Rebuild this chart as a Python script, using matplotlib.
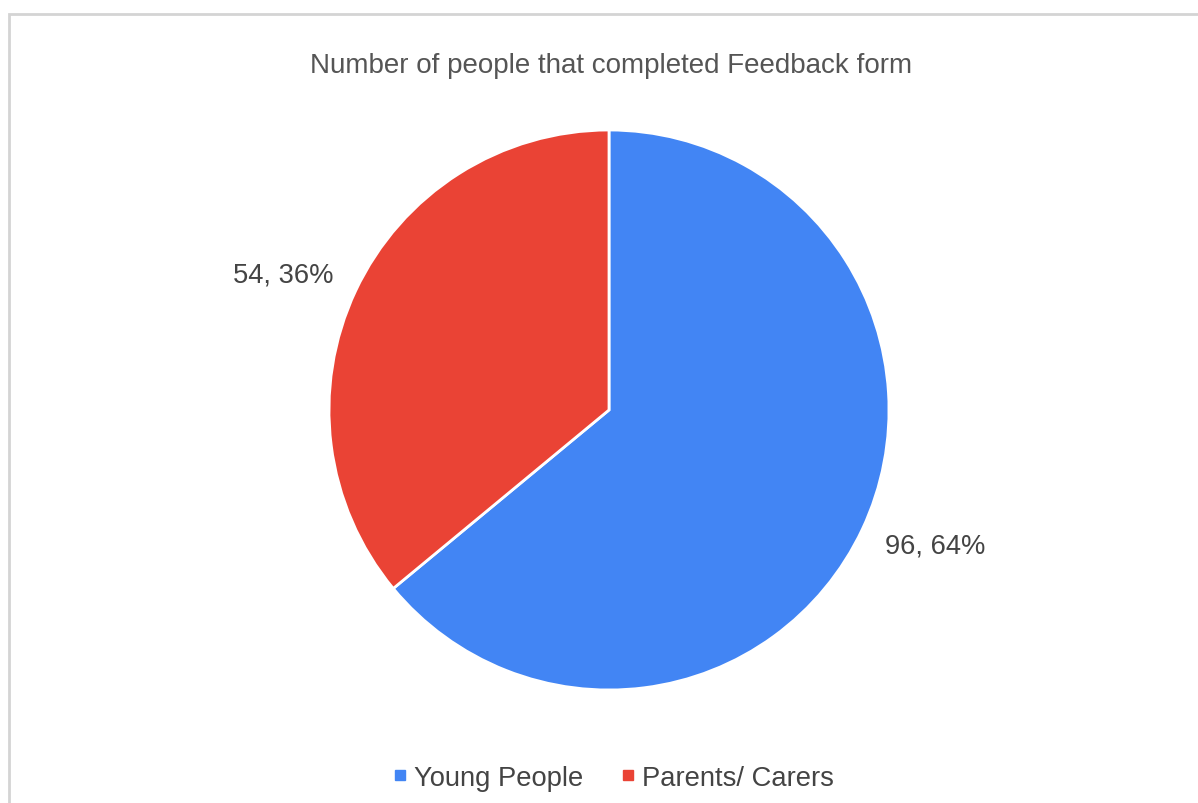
import numpy as np
import matplotlib.pyplot as plt
from matplotlib.lines import Line2D
from matplotlib.patches import Rectangle

plt.rcParams['font.family'] = ['Liberation Sans', 'DejaVu Sans']

# feedback form responses
groups = ['Young People', 'Parents/ Carers']
counts = [96, 54]
colors = ['#4285F4', '#EA4335']
title = 'Number of people that completed Feedback form'

W, H = 1198, 804
fig = plt.figure(figsize=(W / 100, H / 100), dpi=100)
ax = fig.add_axes([0, 0, 1, 1])
ax.axis('off')

cx, cy, r = 609, H - 411, 280
wedges, _ = ax.pie(counts, colors=colors, startangle=90, counterclock=False,
                   center=(cx, cy), radius=r,
                   wedgeprops=dict(edgecolor='white', linewidth=2))

# value labels outside each slice, a little ahead of the mid angle
total = sum(counts)
for w, c in zip(wedges, counts):
    ang = np.deg2rad((w.theta1 + w.theta2) / 2 + 2.7)
    ax.text(cx + 1.26 * r * np.cos(ang), cy + 1.26 * r * np.sin(ang),
            f'{c}, {round(100 * c / total)}%', ha='center', va='center',
            fontsize=19.7, color='#444444')

# pie() sets its own limits, so pixel-like limits go after it
ax.set_xlim(0, W)
ax.set_ylim(0, H)
ax.set_aspect('equal')

# light grey frame around the chart area
ax.add_patch(Rectangle((9, -10), W + 20, H - 15 + 10, fill=False,
                       edgecolor='#d4d4d4', linewidth=2))

ax.text(611, H - 66, title, ha='center', va='center', fontsize=20, color='#555555')

handles = [Line2D([], [], marker='s', linestyle='none', markersize=7.5,
                  markerfacecolor=c, markeredgecolor=c) for c in colors]
fig.legend(handles, groups, loc='center', bbox_to_anchor=(613 / W, 1 - 779 / H),
           ncol=2, frameon=False, fontsize=19.7, labelcolor='#444444',
           handlelength=0.6, handletextpad=0.2, columnspacing=1.35)

fig.savefig('out.png', dpi=100)
